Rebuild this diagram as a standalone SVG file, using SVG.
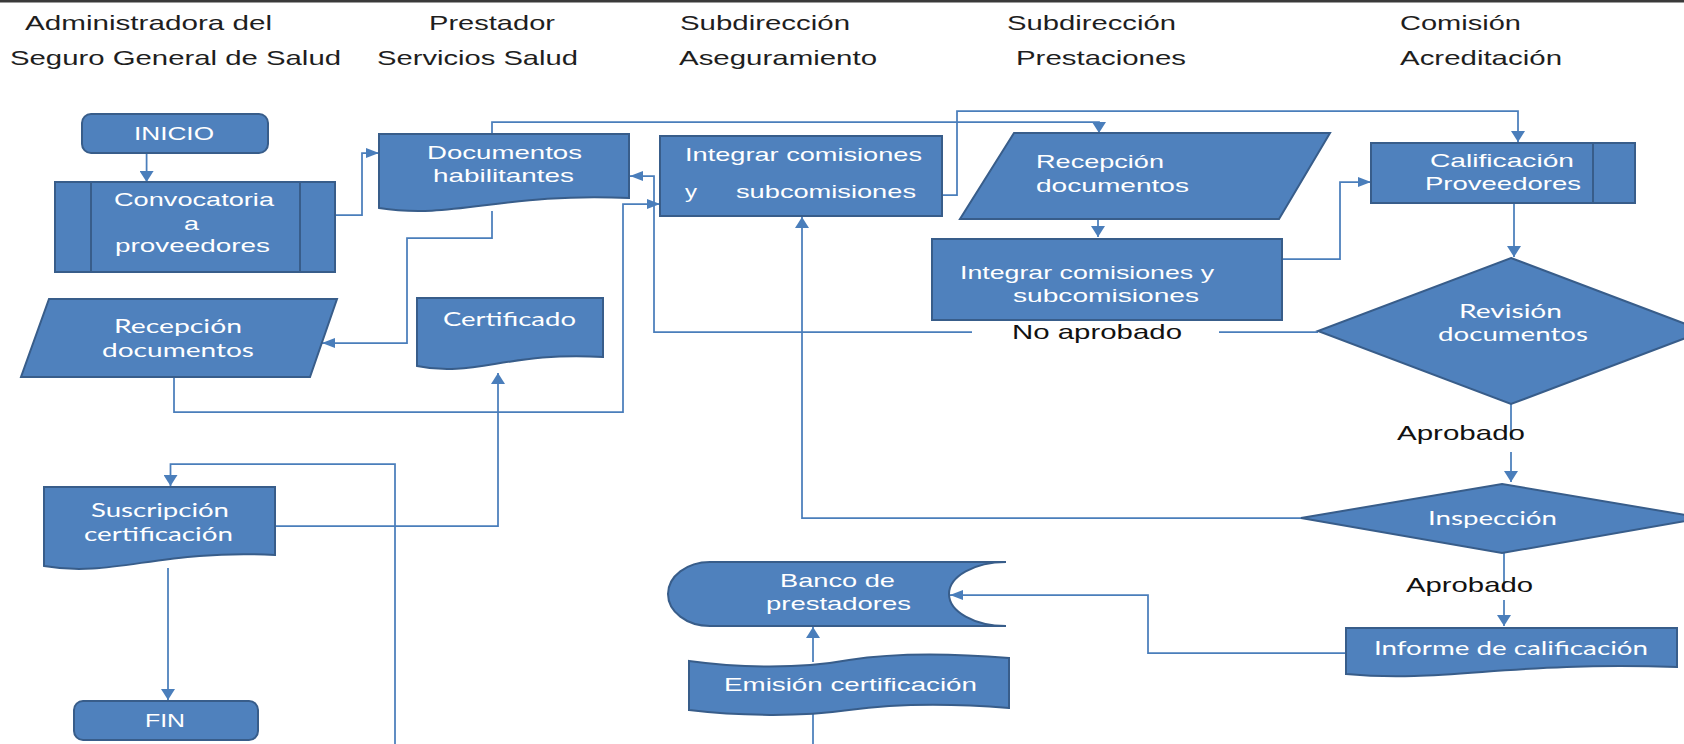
<svg xmlns="http://www.w3.org/2000/svg" width="1684" height="744" viewBox="0 0 1684 744">
<style>
.n{fill:#4F81BD;stroke:#385D8A;stroke-width:2}
.ln{fill:none;stroke:#385D8A;stroke-width:2}
.c{fill:none;stroke:#4A7EBB;stroke-width:1.75}
.t{font-family:"Liberation Sans",Arial,sans-serif;font-size:19px;fill:#fff}
.tc{font-family:Lato,"Liberation Sans",sans-serif;font-size:20px;fill:#fff}
.h{font-family:"Liberation Sans",Arial,sans-serif;font-size:21px;fill:#1e1e1e}
.l{font-family:"Liberation Sans",Arial,sans-serif;font-size:21px;fill:#111}
</style>
<defs>
<marker id="ah" markerUnits="userSpaceOnUse" markerWidth="13" markerHeight="10" refX="13" refY="5" orient="auto"><path d="M0,0 L13,5 L0,10 Z" fill="#4A7EBB"/></marker>
<marker id="av" markerUnits="userSpaceOnUse" markerWidth="11" markerHeight="14" refX="11" refY="7" orient="auto"><path d="M0,0 L11,7 L0,14 Z" fill="#4A7EBB"/></marker>
</defs>
<rect x="0" y="0" width="1684" height="744" fill="#fff"/>
<rect x="0" y="0" width="1684" height="2.5" fill="#3a3a3a"/>

<g id="headers">
<text class="h" x="25" y="30" textLength="247" lengthAdjust="spacingAndGlyphs">Administradora del</text>
<text class="h" x="10" y="65" textLength="331" lengthAdjust="spacingAndGlyphs">Seguro General de Salud</text>
<text class="h" x="429" y="30" textLength="126" lengthAdjust="spacingAndGlyphs">Prestador</text>
<text class="h" x="377" y="65" textLength="201" lengthAdjust="spacingAndGlyphs">Servicios Salud</text>
<text class="h" x="680" y="30" textLength="170" lengthAdjust="spacingAndGlyphs">Subdirección</text>
<text class="h" x="679" y="65" textLength="198" lengthAdjust="spacingAndGlyphs">Aseguramiento</text>
<text class="h" x="1007" y="30" textLength="169" lengthAdjust="spacingAndGlyphs">Subdirección</text>
<text class="h" x="1016" y="65" textLength="170" lengthAdjust="spacingAndGlyphs">Prestaciones</text>
<text class="h" x="1400" y="30" textLength="121" lengthAdjust="spacingAndGlyphs">Comisión</text>
<text class="h" x="1400" y="65" textLength="162" lengthAdjust="spacingAndGlyphs">Acreditación</text>
</g>

<g id="connectors">
<path class="c" d="M146.6,153 V182" marker-end="url(#av)"/>
<path class="c" d="M335,215 H362 V153 H379" marker-end="url(#ah)"/>
<path class="c" d="M492,134 V122 H1099 V133" marker-end="url(#av)"/>
<path class="c" d="M942,195 H957 V111 H1518 V142" marker-end="url(#av)"/>
<path class="c" d="M1318,332 H1219"/>
<path class="c" d="M972,332 H654 V176 H630" marker-end="url(#ah)"/>
<path class="c" d="M174,377 V412 H623 V204 H660" marker-end="url(#ah)"/>
<path class="c" d="M492,211 V238 H407 V343 H322" marker-end="url(#ah)"/>
<path class="c" d="M275,526 H498 V373" marker-end="url(#av)"/>
<path class="c" d="M168,568 V700" marker-end="url(#av)"/>
<path class="c" d="M395,744 V464 H170.5 V486" marker-end="url(#av)"/>
<path class="c" d="M1301,518 H802 V217" marker-end="url(#av)"/>
<path class="c" d="M1098,219 V237" marker-end="url(#av)"/>
<path class="c" d="M1282,259 H1340 V182 H1371" marker-end="url(#ah)"/>
<path class="c" d="M1514,203 V257" marker-end="url(#av)"/>
<path class="c" d="M1511,404 V440"/>
<path class="c" d="M1511,452 V482" marker-end="url(#av)"/>
<path class="c" d="M1504,553 V588"/>
<path class="c" d="M1504,600 V626" marker-end="url(#av)"/>
<path class="c" d="M1346,653 H1148 V595 H950" marker-end="url(#ah)"/>
<path class="c" d="M813,662 V627" marker-end="url(#av)"/>
<path class="c" d="M813,712 V744"/>
<text class="l" x="1012" y="339" textLength="170" lengthAdjust="spacingAndGlyphs">No aprobado</text>
<text class="l" x="1397" y="440" textLength="128" lengthAdjust="spacingAndGlyphs">Aprobado</text>
<text class="l" x="1406" y="592" textLength="127" lengthAdjust="spacingAndGlyphs">Aprobado</text>
</g>

<g id="inicio">
<rect class="n" x="82" y="114" width="186" height="39" rx="9"/>
<text class="t" x="134" y="140" textLength="80" lengthAdjust="spacingAndGlyphs">INICIO</text>
</g>

<g id="convocatoria">
<rect class="n" x="55" y="182" width="280" height="90"/>
<path class="ln" d="M91,182 V272 M300,182 V272"/>
<text class="t" x="114" y="206" textLength="160" lengthAdjust="spacingAndGlyphs">Convocatoria</text>
<text class="t" x="184" y="230" textLength="15" lengthAdjust="spacingAndGlyphs">a</text>
<text class="t" x="115" y="252" textLength="155" lengthAdjust="spacingAndGlyphs">proveedores</text>
</g>

<g id="documentos">
<path class="n" d="M379,134 H629 V198 C504,192 454,220 379,208 Z"/>
<text class="t" x="427" y="159" textLength="155" lengthAdjust="spacingAndGlyphs">Documentos</text>
<text class="t" x="433" y="182" textLength="141" lengthAdjust="spacingAndGlyphs">habilitantes</text>
</g>

<g id="integrar-aseg">
<rect class="n" x="660" y="136" width="282" height="80"/>
<text class="t" x="685" y="161" textLength="237" lengthAdjust="spacingAndGlyphs">Integrar comisiones</text>
<text class="t" x="685" y="198" textLength="12" lengthAdjust="spacingAndGlyphs">y</text>
<text class="t" x="736" y="198" textLength="180" lengthAdjust="spacingAndGlyphs">subcomisiones</text>
</g>

<g id="recepcion-prest">
<path class="n" d="M1014,133 H1330 L1279,219 H960 Z"/>
<text class="t" x="1036" y="168" textLength="128" lengthAdjust="spacingAndGlyphs">Recepción</text>
<text class="t" x="1036" y="192" textLength="153" lengthAdjust="spacingAndGlyphs">documentos</text>
</g>

<g id="integrar-prest">
<rect class="n" x="932" y="239" width="350" height="81"/>
<text class="t" x="960" y="279" textLength="254" lengthAdjust="spacingAndGlyphs">Integrar comisiones y</text>
<text class="t" x="1013" y="302" textLength="186" lengthAdjust="spacingAndGlyphs">subcomisiones</text>
</g>

<g id="calificacion">
<rect class="n" x="1371" y="143" width="264" height="60"/>
<path class="ln" d="M1593,143 V203"/>
<text class="t" x="1430" y="167" textLength="144" lengthAdjust="spacingAndGlyphs">Calificación</text>
<text class="t" x="1425" y="190" textLength="156" lengthAdjust="spacingAndGlyphs">Proveedores</text>
</g>

<g id="revision">
<path class="n" d="M1511,258 L1704,331 L1511,404 L1318,331 Z"/>
<text class="tc" x="1459" y="318" textLength="103" lengthAdjust="spacingAndGlyphs">Revisión</text>
<text class="tc" x="1438" y="341" textLength="150" lengthAdjust="spacingAndGlyphs">documentos</text>
</g>

<g id="inspeccion">
<path class="n" d="M1502,484 L1703,518 L1502,553 L1301,518 Z"/>
<text class="tc" x="1428" y="525" textLength="129" lengthAdjust="spacingAndGlyphs">Inspección</text>
</g>

<g id="informe">
<path class="n" d="M1346,628 H1677 V667 C1511,661 1445,683 1346,674 Z"/>
<text class="tc" x="1374" y="655" textLength="274" lengthAdjust="spacingAndGlyphs">Informe de calificación</text>
</g>

<g id="recepcion-adm">
<path class="n" d="M49,299 H337 L310,377 H21 Z"/>
<text class="tc" x="114" y="333" textLength="128" lengthAdjust="spacingAndGlyphs">Recepción</text>
<text class="tc" x="102" y="357" textLength="152" lengthAdjust="spacingAndGlyphs">documentos</text>
</g>

<g id="certificado">
<path class="n" d="M417,298 H603 V357 C510,351 473,378 417,366 Z"/>
<text class="tc" x="443" y="326" textLength="133" lengthAdjust="spacingAndGlyphs">Certificado</text>
</g>

<g id="suscripcion">
<path class="n" d="M44,487 H275 V555 C159.5,549 113,578 44,566 Z"/>
<text class="tc" x="91" y="517" textLength="138" lengthAdjust="spacingAndGlyphs">Suscripción</text>
<text class="tc" x="84" y="541" textLength="149" lengthAdjust="spacingAndGlyphs">certificación</text>
</g>

<g id="fin">
<rect class="n" x="74" y="701" width="184" height="39" rx="9"/>
<text class="t" x="145" y="727" textLength="40" lengthAdjust="spacingAndGlyphs">FIN</text>
</g>

<g id="banco">
<path class="n" d="M710,562 H1006 A57,32 0 0 0 1006,626 H710 A42,32 0 0 1 710,562 Z"/>
<text class="t" x="780" y="587" textLength="115" lengthAdjust="spacingAndGlyphs">Banco de</text>
<text class="t" x="766" y="610" textLength="145" lengthAdjust="spacingAndGlyphs">prestadores</text>
</g>

<g id="emision">
<path class="n" d="M689,661 C740,668 800,669 849,660 C900,652 960,654 1009,658 V708 C960,704 900,703 849,710 C800,717 740,716 689,710 Z"/>
<text class="t" x="724" y="691" textLength="253" lengthAdjust="spacingAndGlyphs">Emisión certificación</text>
</g>
</svg>
